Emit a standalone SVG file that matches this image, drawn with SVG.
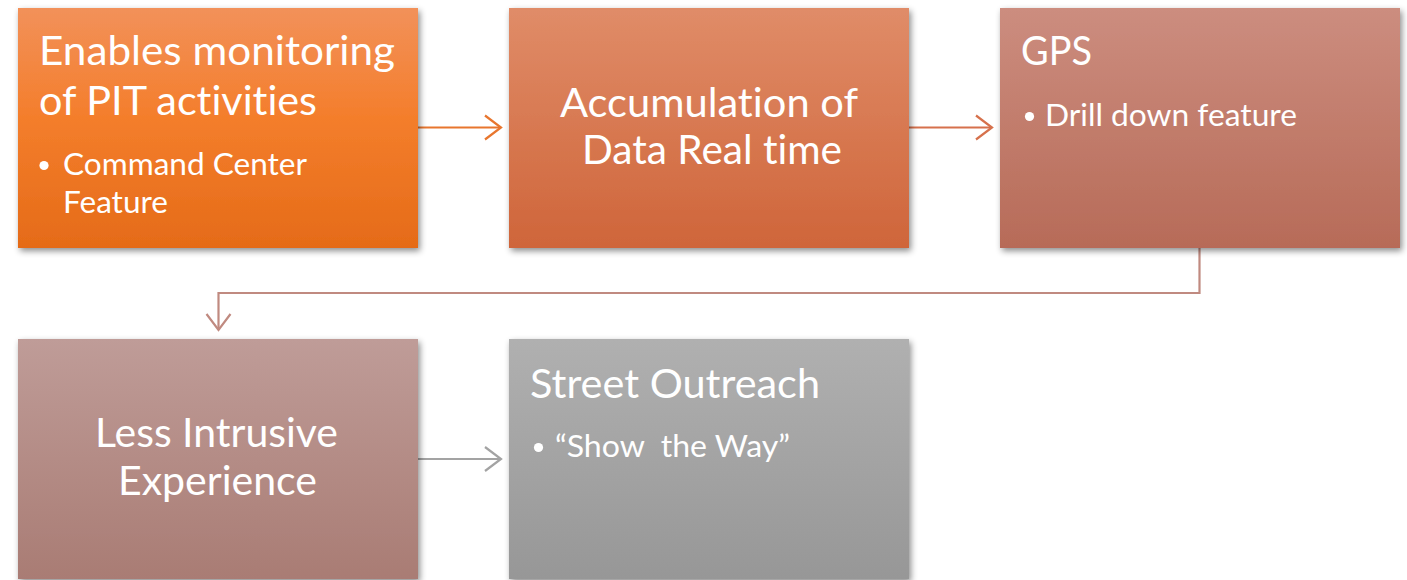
<svg xmlns="http://www.w3.org/2000/svg" width="1407" height="580" viewBox="0 0 1407 580">
<style>
.t{font-family:Lato,"Open Sans","Liberation Sans",sans-serif;fill:#fff;font-variant-ligatures:none;white-space:pre;}
.h{font-size:41px;}
.b{font-size:30px;}
.c{fill:none;stroke-width:2.2;}
</style>
<defs>
<filter id="sh" x="-5%" y="-5%" width="115%" height="120%">
<feDropShadow dx="2" dy="3" stdDeviation="3" flood-color="#000" flood-opacity="0.45"/>
</filter>
<linearGradient id="g1" x1="0" y1="0" x2="0" y2="1"><stop offset="0" stop-color="#F2915A"/><stop offset="0.45" stop-color="#F47E2C"/><stop offset="1" stop-color="#E56B18"/></linearGradient>
<linearGradient id="g2" x1="0" y1="0" x2="0" y2="1"><stop offset="0" stop-color="#E08C68"/><stop offset="1" stop-color="#CF653A"/></linearGradient>
<linearGradient id="g3" x1="0" y1="0" x2="0" y2="1"><stop offset="0" stop-color="#CC8D7F"/><stop offset="1" stop-color="#B76B58"/></linearGradient>
<linearGradient id="g4" x1="0" y1="0" x2="0" y2="1"><stop offset="0" stop-color="#BF9C98"/><stop offset="1" stop-color="#A97C74"/></linearGradient>
<linearGradient id="g5" x1="0" y1="0" x2="0" y2="1"><stop offset="0" stop-color="#B0B0B0"/><stop offset="1" stop-color="#979797"/></linearGradient>
</defs>

<g id="connectors">
<g id="c1" stroke="#E8762E" class="c">
<line x1="418" y1="127.5" x2="501" y2="127.5"/>
<polyline points="485,115.5 501,127.5 485,139.5"/>
</g>
<g id="c2" stroke="#D6714C" class="c">
<line x1="909" y1="127.5" x2="992" y2="127.5"/>
<polyline points="976,115.5 992,127.5 976,139.5"/>
</g>
<g id="c3" stroke="#C08A80" class="c">
<polyline points="1199.5,248 1199.5,293 218.5,293 218.5,330"/>
<polyline points="206.5,314 218.5,330 230.5,314"/>
</g>
<g id="c4" stroke="#A3A3A3" class="c">
<line x1="418" y1="459" x2="501" y2="459"/>
<polyline points="485,447 501,459 485,471"/>
</g>
</g>

<g id="n1">
<rect x="18" y="8" width="400" height="240" fill="url(#g1)" filter="url(#sh)"/>
<text class="t h" x="39" y="65" textLength="356" lengthAdjust="spacingAndGlyphs">Enables monitoring</text>
<text class="t h" x="39" y="115" textLength="278" lengthAdjust="spacingAndGlyphs">of PIT activities</text>
<circle cx="44" cy="165.5" r="4.6" fill="#fff"/>
<text class="t b" x="63" y="175" textLength="244" lengthAdjust="spacingAndGlyphs">Command Center</text>
<text class="t b" x="63" y="213" textLength="105" lengthAdjust="spacingAndGlyphs">Feature</text>
</g>

<g id="n2">
<rect x="509" y="8" width="400" height="240" fill="url(#g2)" filter="url(#sh)"/>
<text class="t h" x="560" y="117" textLength="298" lengthAdjust="spacingAndGlyphs">Accumulation of</text>
<text class="t h" x="582" y="164" textLength="260" lengthAdjust="spacingAndGlyphs">Data Real time</text>
</g>

<g id="n3">
<rect x="1000" y="8" width="400" height="240" fill="url(#g3)" filter="url(#sh)"/>
<text class="t h" x="1021" y="65" textLength="71" lengthAdjust="spacingAndGlyphs">GPS</text>
<circle cx="1029.5" cy="116.5" r="4.6" fill="#fff"/>
<text class="t b" x="1045" y="126" textLength="252" lengthAdjust="spacingAndGlyphs">Drill down feature</text>
</g>

<g id="n4">
<rect x="18" y="339" width="400" height="240" fill="url(#g4)" filter="url(#sh)"/>
<text class="t h" x="95" y="447" textLength="243" lengthAdjust="spacingAndGlyphs">Less Intrusive</text>
<text class="t h" x="118" y="495" textLength="199" lengthAdjust="spacingAndGlyphs">Experience</text>
</g>

<g id="n5">
<rect x="509" y="339" width="400" height="240" fill="url(#g5)" filter="url(#sh)"/>
<text class="t h" x="530" y="398" textLength="290" lengthAdjust="spacingAndGlyphs">Street Outreach</text>
<circle cx="538.5" cy="447.5" r="4.6" fill="#fff"/>
<text class="t b" x="555" y="457" textLength="235" lengthAdjust="spacingAndGlyphs" xml:space="preserve">“Show  the Way”</text>
</g>
</svg>
